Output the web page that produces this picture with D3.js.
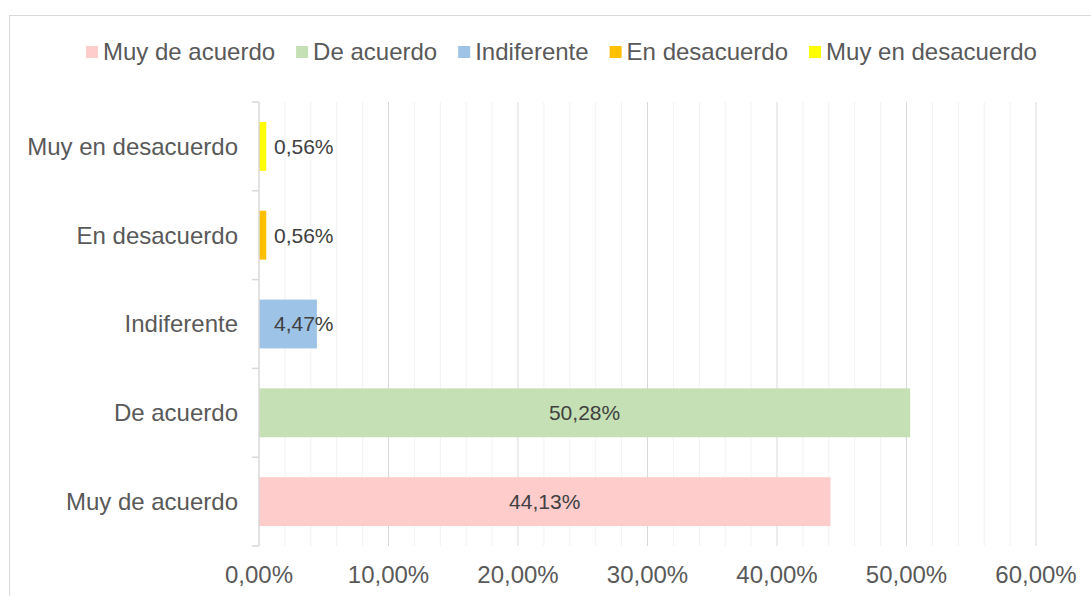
<!DOCTYPE html>
<html>
<head>
<meta charset="utf-8">
<script src="https://cdn.jsdelivr.net/npm/d3@7"></script>
<style>
  body { margin: 0; background: #fff; }
  svg { font-family: "Liberation Sans", Arial, sans-serif; }
</style>
</head>
<body>
<div id="container"></div>
<script>
/* DATA */
const categories = ["Muy de acuerdo", "De acuerdo", "Indiferente", "En desacuerdo", "Muy en desacuerdo"];
const values = [44.13, 50.28, 4.47, 0.56, 0.56];
const colors = ["#FFCCCC", "#C5E0B4", "#9DC3E6", "#FFC000", "#FFFF00"];
const xTicks = [0, 10, 20, 30, 40, 50, 60];

/* LAYOUT */
const W = 1091, H = 596;
const margin = { top: 102, right: 55, bottom: 50, left: 259 };
const width = 1036 - margin.left;
const height = 546 - margin.top;

const fmt = v => v.toFixed(2).replace(".", ",") + "%";

const svg = d3.select("#container")
  .append("svg")
  .attr("width", W)
  .attr("height", H);

// chart border
svg.append("rect")
  .attr("x", 9.5).attr("y", 15.5)
  .attr("width", W + 10).attr("height", H + 10)
  .attr("fill", "none")
  .attr("stroke", "#D9D9D9")
  .attr("stroke-width", 1);

const chart = svg.append("g")
  .attr("transform", `translate(${margin.left}, ${margin.top})`);

// scales
const xScale = d3.scaleLinear().domain([0, 60]).range([0, width]);
const yScale = d3.scaleBand()
  .domain(categories.slice().reverse())
  .range([0, height])
  .padding(0);
const barH = yScale.bandwidth() * 0.55;

// minor gridlines (every 2%)
chart.append("g")
  .selectAll("line")
  .data(d3.range(2, 60, 2).filter(v => v % 10 !== 0))
  .enter().append("line")
  .attr("x1", d => xScale(d)).attr("x2", d => xScale(d))
  .attr("y1", 0).attr("y2", height)
  .attr("stroke", "#F2F2F2")
  .attr("stroke-width", 1);

// major gridlines
chart.append("g")
  .selectAll("line")
  .data(xTicks.slice(1))
  .enter().append("line")
  .attr("x1", d => xScale(d)).attr("x2", d => xScale(d))
  .attr("y1", 0).attr("y2", height)
  .attr("stroke", "#D9D9D9")
  .attr("stroke-width", 1);

// bars
chart.selectAll(".bar")
  .data(categories)
  .enter().append("rect")
  .attr("class", "bar")
  .attr("x", xScale(0))
  .attr("y", d => yScale(d) + (yScale.bandwidth() - barH) / 2)
  .attr("width", (d, i) => xScale(values[i]) - xScale(0))
  .attr("height", barH)
  .attr("fill", (d, i) => colors[i]);

// y axis line + tick marks at band edges
chart.append("line")
  .attr("x1", 0).attr("x2", 0)
  .attr("y1", 0).attr("y2", height)
  .attr("stroke", "#D9D9D9").attr("stroke-width", 1.5);

chart.append("g")
  .selectAll("line")
  .data(d3.range(categories.length + 1))
  .enter().append("line")
  .attr("x1", -7).attr("x2", 0)
  .attr("y1", d => d * yScale.step()).attr("y2", d => d * yScale.step())
  .attr("stroke", "#D9D9D9").attr("stroke-width", 1.5);

// y labels
chart.append("g")
  .selectAll("text")
  .data(categories)
  .enter().append("text")
  .attr("x", -21)
  .attr("y", d => yScale(d) + yScale.bandwidth() / 2)
  .attr("dy", "0.35em")
  .attr("text-anchor", "end")
  .attr("font-size", 24)
  .attr("fill", "#595959")
  .text(d => d);

// x labels
chart.append("g")
  .selectAll("text")
  .data(xTicks)
  .enter().append("text")
  .attr("x", d => xScale(d))
  .attr("y", height + 37)
  .attr("text-anchor", "middle")
  .attr("font-size", 24)
  .attr("fill", "#595959")
  .text(d => fmt(d));

// data labels
chart.append("g")
  .selectAll("text")
  .data(categories)
  .enter().append("text")
  .attr("x", (d, i) => values[i] > 10 ? (xScale(values[i]) + xScale(0)) / 2 : xScale(0) + 15)
  .attr("y", d => yScale(d) + yScale.bandwidth() / 2)
  .attr("dy", "0.35em")
  .attr("text-anchor", (d, i) => values[i] > 10 ? "middle" : "start")
  .attr("font-size", 21)
  .attr("fill", "#404040")
  .text((d, i) => fmt(values[i]));

// legend
const legend = svg.append("g").attr("transform", "translate(86, 46)");
let lx = 0;
categories.forEach((c, i) => {
  const item = legend.append("g").attr("transform", `translate(${lx}, 0)`);
  item.append("rect")
    .attr("width", 12).attr("height", 12)
    .attr("fill", colors[i]);
  const t = item.append("text")
    .attr("x", 17)
    .attr("y", 14)
    .attr("font-size", 24)
    .attr("fill", "#595959")
    .text(c);
  lx += 17 + t.node().getComputedTextLength() + 21;
});
</script>
</body>
</html>
